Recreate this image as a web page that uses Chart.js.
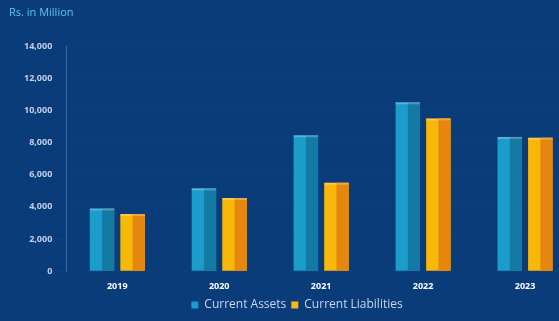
<!DOCTYPE html>
<html>
<head>
<meta charset="utf-8">
<script src="https://cdn.jsdelivr.net/npm/chart.js@4/dist/chart.umd.min.js"></script>
<style>
  html, body { margin: 0; padding: 0; overflow: hidden; }
  body { width: 559px; height: 321px; background: #0a3c7a; font-family: "Open Sans", sans-serif; }
  #wrap { position: relative; width: 576px; height: 321px; }
  #unit { position: absolute; left: 9px; top: 4px; color: #5cc6ee; font-size: 11px; }
</style>
</head>
<body>
<div id="wrap">
  <div id="unit">Rs. in Million</div>
  <canvas id="myChart" width="576" height="321"></canvas>
</div>
<script>
const years = ['2019', '2020', '2021', '2022', '2023'];
const currentAssets = [3900, 5150, 8450, 10500, 8350];
const currentLiabilities = [3550, 4550, 5500, 9500, 8300];
const yTicks = [0, 2000, 4000, 6000, 8000, 10000, 12000, 14000];

// darker right half on each bar, gives the cylinder look
const shadePlugin = {
    id: 'shade',
    afterDatasetsDraw(chart) {
        const ctx = chart.ctx;
        const shades = ['#127aa3', '#e5870f'];
        chart.data.datasets.forEach((ds, i) => {
            chart.getDatasetMeta(i).data.forEach(bar => {
                const w = bar.width;
                ctx.fillStyle = shades[i];
                ctx.fillRect(bar.x, bar.y, w / 2, bar.base - bar.y);
                ctx.fillStyle = 'rgba(255,255,255,0.25)';
                ctx.fillRect(bar.x - w / 2, bar.y, w, 2);
            });
        });
    }
};

new Chart(document.getElementById('myChart').getContext('2d'), {
    type: 'bar',
    data: {
        labels: years,
        datasets: [
            { label: 'Current Assets', data: currentAssets, backgroundColor: '#1b9ccb' },
            { label: 'Current Liabilities', data: currentLiabilities, backgroundColor: '#f7b80a' }
        ]
    },
    plugins: [shadePlugin],
    options: {
        responsive: false,
        animation: false,
        datasets: { bar: { categoryPercentage: 0.6, barPercentage: 0.8 } },
        layout: { padding: { top: 46, left: 18, right: 0, bottom: 0 } },
        scales: {
            x: {
                grid: { display: false },
                border: { display: false },
                ticks: { color: '#ffffff', font: { size: 9, weight: 'bold', family: 'Open Sans' }, padding: 2 }
            },
            y: {
                min: 0,
                max: 14000,
                afterBuildTicks: axis => { axis.ticks = yTicks.map(v => ({ value: v })); },
                grid: { color: 'rgba(255,255,255,0.04)' },
                border: { color: 'rgba(160,190,230,0.35)', dash: [1, 2] },
                ticks: {
                    color: '#c2d0ea',
                    font: { size: 9, weight: 'bold', family: 'Open Sans' },
                    padding: 6,
                    callback: v => v.toLocaleString('en-US')
                }
            }
        },
        plugins: {
            legend: {
                position: 'bottom',
                labels: {
                    color: '#c8d6f0',
                    font: { size: 12, family: 'Open Sans' },
                    boxWidth: 7,
                    boxHeight: 7,
                    padding: 5
                }
            },
            tooltip: { enabled: false }
        }
    }
});
</script>
</body>
</html>
